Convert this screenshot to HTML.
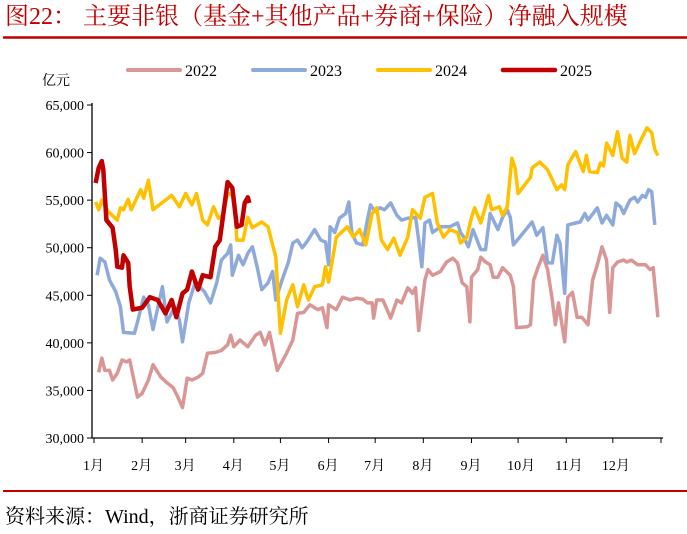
<!DOCTYPE html>
<html><head><meta charset="utf-8"><style>
body{margin:0;width:687px;height:529px;background:#fff;overflow:hidden;font-family:"Liberation Serif","Noto Serif CJK SC",serif;}
svg text{font-family:"Liberation Serif","Noto Serif CJK SC",serif;}
</style></head><body>
<svg id="chart" width="687" height="529" xmlns="http://www.w3.org/2000/svg">
<text x="5" y="24" font-size="24" fill="#c00000">图22：  主要非银（基金+其他产品+券商+保险）净融入规模</text>
<line x1="3" y1="37.5" x2="687" y2="37.5" stroke="#c00000" stroke-width="2.5"/>
<text x="42" y="85" font-size="14" fill="#000">亿元</text>
<g id="legend"></g>
<g id="axes"></g>
<g id="series"></g>
<line x1="3" y1="491" x2="687" y2="491" stroke="#c00000" stroke-width="2"/>
<text x="5" y="523" font-size="20" fill="#000">资料来源：Wind，浙商证券研究所</text>
</svg>
<script>
const yTicks=[30000,35000,40000,45000,50000,55000,60000,65000];
const monthLabels=["1月","2月","3月","4月","5月","6月","7月","8月","9月","10月","11月","12月"];
const monthStarts=[0,31,59,90,120,151,181,212,243,273,304,334,365];
const seriesNames=["2022","2023","2024","2025"];
const seriesColors=["#d99694","#8eaadb","#ffc000","#c00000"];
const days2022=[3,5,7,10,12,15,18,21,23,28,31,35,38,43,47,51,54,57,60,63,67,70,73,78,82,86,88,90,94,99,104,107,110,113,118,124,128,131,135,139,144,147,150,151,156,160,165,169,173,176,179,180,182,186,191,195,198,202,205,207,209,213,215,218,223,227,231,234,237,240,242,243,247,249,252,255,257,260,263,268,270,272,279,281,283,286,289,292,295,297,299,303,305,308,311,314,318,321,324,327,330,332,334,337,341,343,346,350,353,355,358,360,363];
const vals2022=[36900,38400,37100,37100,36100,36800,38200,38000,38200,34300,34700,36100,37700,36400,35800,35300,34300,33200,36300,36100,36400,36800,38900,39000,39200,39800,40800,39600,40300,39600,40800,41100,39800,41100,37100,38900,40300,43100,43200,44000,43500,43700,41600,44000,43500,44800,44500,44700,44600,44200,44200,42600,44500,44500,42600,44500,44200,45800,45200,45800,41300,46600,47700,47100,47500,48500,48900,48400,46300,45900,42200,46900,47700,49000,48500,48200,46900,46900,47900,47100,45900,41600,41700,41900,46600,48000,49200,47700,44500,41900,44200,40100,44800,45300,42700,42700,41900,46600,48200,50100,48700,43200,47900,48500,48700,48500,48700,48200,48200,48200,47700,47900,42700];
const days2023=[2,4,7,10,14,17,19,26,28,32,35,38,44,47,52,55,57,61,65,71,75,79,82,86,88,89,93,96,99,102,105,108,112,115,117,121,125,128,131,134,137,142,146,149,151,152,155,158,162,164,166,169,173,176,178,181,184,187,191,195,198,202,207,209,211,213,216,218,223,229,234,236,238,241,244,249,252,255,260,263,266,268,270,282,285,289,292,295,298,300,303,305,310,313,316,318,324,327,330,334,336,339,341,345,348,350,353,355,357,359,361];
const vals2023=[47100,48900,48500,46600,45400,43800,41100,41000,42200,44800,44000,41400,45900,42200,43800,42400,40100,44200,46300,45400,44200,46300,48700,49400,50300,47100,49200,48200,49400,50100,48000,45600,46300,47500,44500,46600,48400,50500,50800,50000,50600,51900,50800,50600,48200,52200,51600,53100,53600,54800,51500,50500,50300,52900,54500,53800,54200,54000,54700,53400,52900,53100,53200,50800,48000,52600,52900,51600,52200,52200,52600,51600,51100,50100,51900,49800,49800,53600,51900,53200,54000,53200,50300,52700,51300,52100,48400,48400,51300,50500,45200,52400,52600,52700,53600,52900,54200,52600,53400,52400,54700,54300,53600,55000,55300,54800,55500,55300,56100,55900,52400];
const days2024=[1,3,5,9,15,17,19,22,24,30,32,35,38,50,55,59,63,66,70,73,77,80,83,86,90,92,96,99,102,108,112,117,120,124,128,131,135,138,142,147,149,151,156,163,167,171,175,179,182,185,189,193,197,202,205,210,213,218,221,225,229,234,236,240,243,245,249,254,256,261,263,266,269,271,273,281,282,287,292,298,301,303,305,310,315,317,319,324,326,328,330,334,337,340,343,345,348,352,356,359,361,363];
const vals2024=[54800,54000,55000,53800,52900,54200,54000,55100,54000,56100,55200,57100,54000,55500,54300,55700,54500,55700,52900,52400,54300,53100,53400,55700,55500,50800,50800,53200,52100,52700,52200,49000,41000,44500,46100,43800,46100,44500,45900,46100,48000,46400,51100,52200,51100,51900,50300,53600,54200,50800,49800,51000,49200,51100,54000,53100,55300,55700,52600,51100,51900,51600,50500,51100,53200,54200,52600,55500,54000,54300,53400,54300,59400,58400,55700,57400,58400,59000,58200,56100,56600,56100,58700,60100,58000,59700,58000,57900,58900,58600,61000,59700,62200,59400,59000,61800,59900,61300,62600,62100,60300,59700];
const days2025=[1,3,5,6,8,12,14,15,18,19,22,23,25,31,36,41,46,50,53,57,60,63,67,70,75,78,81,86,89,92,95,97,99,100];
const vals2025=[56800,58400,59100,58200,52900,52100,49800,48000,47900,49200,48400,45900,43500,43700,44800,44500,43100,44500,42700,45200,45600,47500,45600,47100,46900,50100,50800,56900,56300,52200,52400,54700,55300,54700];
const allDays=[days2022,days2023,days2024,days2025];
const allVals=[vals2022,vals2023,vals2024,vals2025];

const X0=94,X1=661,Y0=438,Y1=105,VMIN=30000,VMAX=65000;
const xScale=d=>X0+d/365*(X1-X0);
const yScale=v=>Y0-(v-VMIN)/(VMAX-VMIN)*(Y0-Y1);
const NS="http://www.w3.org/2000/svg";
function mk(tag,attrs,parent){const e=document.createElementNS(NS,tag);for(const k in attrs)e.setAttribute(k,attrs[k]);parent.appendChild(e);return e;}
const axes=document.getElementById('axes');
const yAxis=mk('line',{x1:92,y1:Y1-2,x2:92,y2:Y0,stroke:'#000','stroke-width':1.3},axes);


const xAxis=mk('line',{x1:92,y1:Y0,x2:X1+2,y2:Y0,stroke:'#000','stroke-width':1.3},axes);


yTicks.forEach(v=>{
  const y=yScale(v);
  const t=mk('line',{x1:87,y1:y,x2:92,y2:y,stroke:'#000','stroke-width':1},axes);
  
  
  const l=mk('text',{x:84,y:y+5,'font-size':14,'text-anchor':'end',fill:'#000'},axes);
  l.textContent=v.toLocaleString('en-US');
  
  
});
monthStarts.forEach(d=>{
  const x=xScale(d);
  const t=mk('line',{x1:x,y1:Y0,x2:x,y2:Y0+5,stroke:'#000','stroke-width':1},axes);
  
  
});
monthLabels.forEach((m,i)=>{
  const l=mk('text',{x:xScale(monthStarts[i])-11,y:470,'font-size':14,fill:'#000'},axes);
  l.textContent=m;
  
  
});
const sg=document.getElementById('series');
allVals.forEach((vals,i)=>{
  const pts=vals.map((v,j)=>xScale(allDays[i][j]).toFixed(1)+','+yScale(v).toFixed(1)).join(' ');
  const p=mk('polyline',{points:pts,fill:'none',stroke:seriesColors[i],'stroke-width':i===3?4.5:3.5,'stroke-linejoin':'round'},sg);
  
  
});
const lg=document.getElementById('legend');
seriesNames.forEach((n,i)=>{
  const x=128+i*125;
  const s=mk('line',{x1:x,y1:70,x2:x+52,y2:70,stroke:seriesColors[i],'stroke-width':i===3?4.5:4,'stroke-linecap':'round'},lg);
  
  
  const t=mk('text',{x:x+57,y:76,'font-size':16,fill:'#000'},lg);
  t.textContent=n;
  
  
});
</script>
</body></html>
